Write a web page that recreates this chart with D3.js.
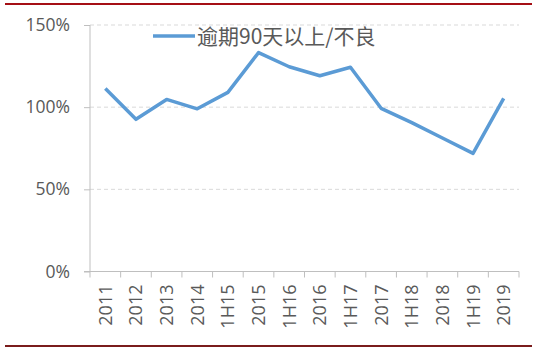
<!DOCTYPE html>
<html lang="zh">
<head>
    <meta charset="UTF-8">
    <title>逾期90天以上/不良</title>
    <script src="https://d3js.org/d3.v7.min.js"></script>
    <style>
        body { margin: 0; background: #fff; }
        text { font-family: "Open Sans", "Noto Sans CJK SC", sans-serif; fill: #595959; }
    </style>
</head>
<body>
    <div id="chart"></div>
    <script>
        // data
        const periods = ["2011", "2012", "2013", "2014", "1H15", "2015", "1H16", "2016", "1H17", "2017", "1H18", "2018", "1H19", "2019"];
        const ratio = [111.4, 92.6, 104.7, 99.0, 109.0, 133.2, 124.6, 119.1, 124.3, 99.3, 90.6, 81.2, 71.9, 105.4];
        const yTicks = [0, 50, 100, 150];
        const seriesName = "逾期90天以上/不良";

        const width = 536, height = 352;
        const margin = { top: 25, right: 17, bottom: 80.5, left: 90 };

        const svg = d3.select("#chart").append("svg")
            .attr("width", width)
            .attr("height", height);

        // red frame lines
        svg.append("line")
            .attr("x1", 5).attr("x2", 532).attr("y1", 4).attr("y2", 4)
            .attr("stroke", "#a50f15").attr("stroke-width", 2);
        svg.append("line")
            .attr("x1", 5).attr("x2", 532).attr("y1", 346).attr("y2", 346)
            .attr("stroke", "#7a1c1c").attr("stroke-width", 2);

        const x = d3.scaleBand()
            .domain(periods)
            .range([margin.left, width - margin.right]);

        const y = d3.scaleLinear()
            .domain([0, 150])
            .range([height - margin.bottom, margin.top]);

        // dashed gridlines
        svg.append("g")
            .selectAll("line")
            .data(yTicks.filter(d => d > 0))
            .enter().append("line")
            .attr("x1", margin.left).attr("x2", width - margin.right)
            .attr("y1", d => y(d)).attr("y2", d => y(d))
            .attr("stroke", "#d9d9d9")
            .attr("stroke-dasharray", "4,3");

        // y axis
        const yAxis = svg.append("g")
            .attr("transform", "translate(" + margin.left + ",0)")
            .call(d3.axisLeft(y).tickValues(yTicks).tickFormat(d => d + "%").tickSize(6).tickPadding(14));
        yAxis.select(".domain").attr("stroke", "#bfbfbf").attr("d", "M0," + y(0) + "V" + y(150));
        yAxis.selectAll(".tick line").attr("stroke", "#bfbfbf");
        yAxis.selectAll("text").style("font-size", "17.5px").style("fill", "#595959");

        // x axis with boundary ticks
        const xAxis = svg.append("g")
            .attr("transform", "translate(0," + y(0) + ")");
        xAxis.append("line")
            .attr("x1", margin.left - 6).attr("x2", width - margin.right)
            .attr("stroke", "#bfbfbf");
        xAxis.selectAll(".bt")
            .data(periods.concat(["end"]))
            .enter().append("line")
            .attr("x1", (d, i) => margin.left + i * x.bandwidth())
            .attr("x2", (d, i) => margin.left + i * x.bandwidth())
            .attr("y1", 0).attr("y2", 6)
            .attr("stroke", "#bfbfbf");
        xAxis.selectAll(".lbl")
            .data(periods)
            .enter().append("text")
            .attr("transform", d => "translate(" + (x(d) + x.bandwidth() / 2 + 6.5) + ",13) rotate(-90)")
            .attr("text-anchor", "end")
            .style("font-size", "18px")
            .text(d => d);

        // line
        const line = d3.line()
            .x((d, i) => x(periods[i]) + x.bandwidth() / 2)
            .y(d => y(d));

        svg.append("path")
            .datum(ratio)
            .attr("fill", "none")
            .attr("stroke", "#5b9bd5")
            .attr("stroke-width", 3.5)
            .attr("stroke-linejoin", "round")
            .attr("d", line);

        // legend
        svg.append("line")
            .attr("x1", 153).attr("x2", 195).attr("y1", 36).attr("y2", 36)
            .attr("stroke", "#5b9bd5").attr("stroke-width", 3.5);
        svg.append("text")
            .attr("x", 197).attr("y", 44)
            .style("font-family", "'Noto Sans CJK SC', sans-serif")
            .style("font-size", "21px")
            .text(seriesName);
    </script>
</body>
</html>
